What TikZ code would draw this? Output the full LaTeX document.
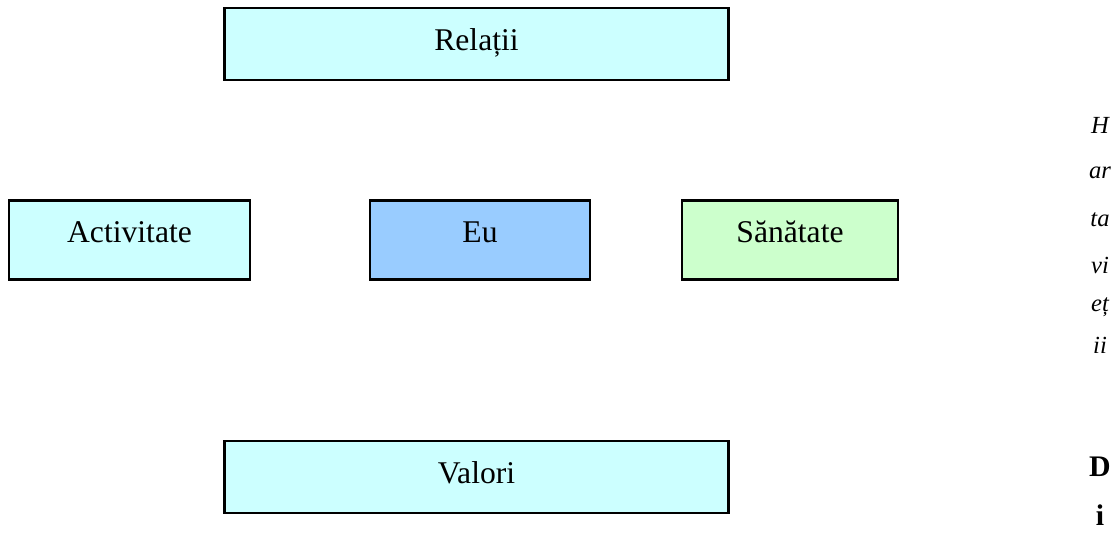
\documentclass[tikz,border=0pt]{standalone}
\usepackage{fontspec}
\setmainfont{Liberation Serif}
\usepackage{xcolor}
\usetikzlibrary{positioning}
\definecolor{BoxCyan}{RGB}{204,255,255}
\definecolor{BoxBlue}{RGB}{153,204,255}
\definecolor{BoxGreen}{RGB}{204,255,204}
\tikzset{
    widebox/.style={
        draw, line width=1.5pt, fill=BoxCyan, minimum width=10.08cm, minimum height=1.44cm,
        text height=12pt, text depth=4.5pt, font=\fontsize{18}{20}\selectfont
    },
    rowbox/.style={
        draw, line width=1.5pt, minimum height=1.58cm,
        text height=12pt, text depth=9pt, font=\fontsize{18}{20}\selectfont
    },
    sidetext/.style={
        font=\fontsize{14}{16}\selectfont\itshape, inner sep=0pt
    },
    sidebold/.style={
        font=\fontsize{17}{19}\selectfont\bfseries, inner sep=0pt
    }
}

\begin{document}
\begin{tikzpicture}[x=0.02cm, y=-0.02cm]
        \useasboundingbox (0,0) rectangle (1120,537);
        % top and bottom
        \node[widebox] (relatii) at (476.5, 44) {Relații};
        \node[widebox] (valori) at (476.5, 477) {Valori};
        % middle row
        \node[rowbox, fill=BoxCyan, minimum width=4.82cm] (activitate) at (129.5, 240) {Activitate};
        \node[rowbox, fill=BoxBlue, minimum width=4.4cm] (eu) at (480, 240) {Eu};
        \node[rowbox, fill=BoxGreen, minimum width=4.32cm] (sanatate) at (790, 240) {Sănătate};

        % text running down the right side
        \node[sidetext] (h1) at (1100, 125) {H};
        \node[sidetext] (h2) at (1100, 173) {ar};
        \node[sidetext] (h3) at (1100, 220) {ta};
        \node[sidetext] (h4) at (1100, 265) {vi};
        \node[sidetext] (h5) at (1100, 307) {eț};
        \node[sidetext] (h6) at (1100, 345) {ii};
        \node[sidebold] (d1) at (1100, 467) {D};
        \node[sidebold] (d2) at (1100, 515) {i};
    \end{tikzpicture}
\end{document}
